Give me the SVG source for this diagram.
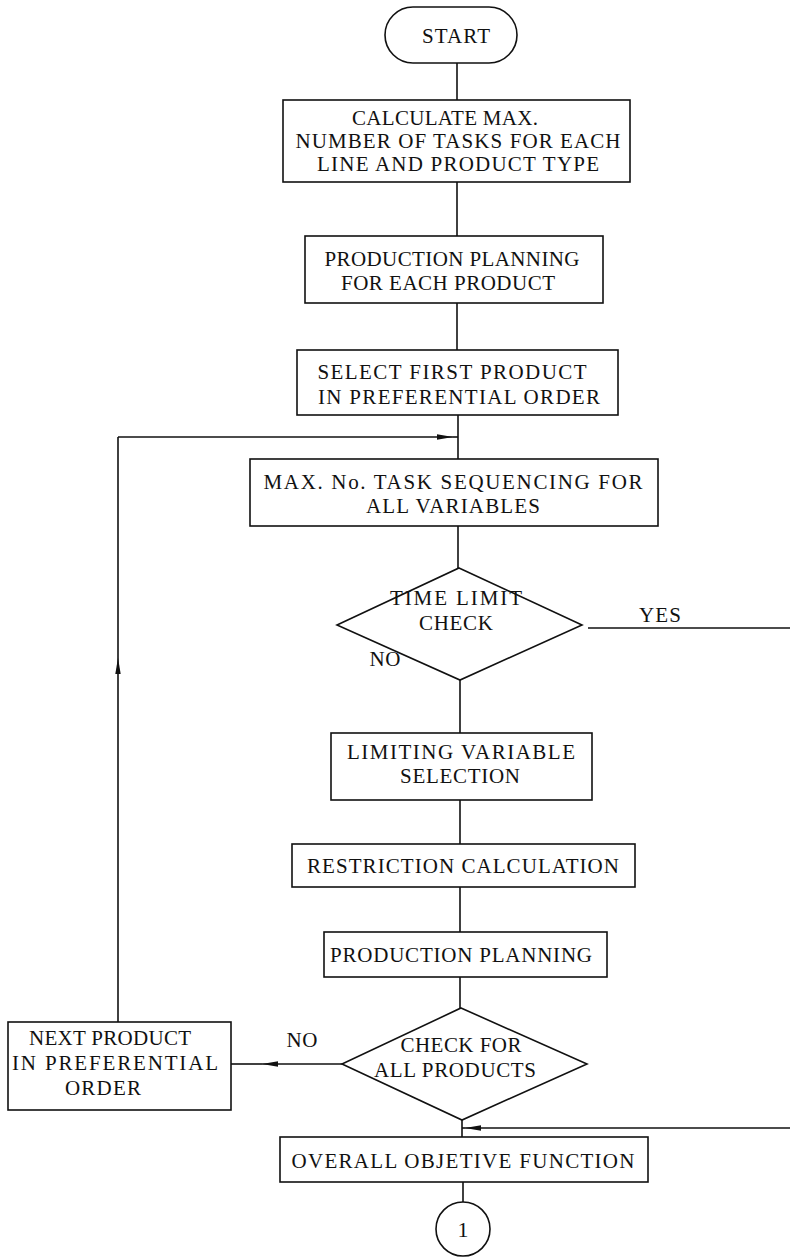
<svg xmlns="http://www.w3.org/2000/svg" width="790" height="1257" viewBox="0 0 790 1257">
<style>
.s{fill:none;stroke:#111;stroke-width:1.6}
.b{fill:#fff;stroke:#111;stroke-width:1.6}
text{font-family:"Liberation Serif","Times New Roman",serif;font-size:21px;fill:#111;text-anchor:middle}
</style>
<defs>
<marker id="ah" viewBox="0 0 16 6" refX="16" refY="3" markerWidth="16" markerHeight="6" markerUnits="userSpaceOnUse" orient="auto">
<path d="M0,0.3 L16,3 L0,5.7 Z" fill="#111"/>
</marker>
</defs>
<rect width="790" height="1257" fill="#fff"/>
<g id="connectors">
<line class="s" x1="457" y1="63" x2="457" y2="100"/>
<line class="s" x1="457" y1="182" x2="457" y2="236"/>
<line class="s" x1="457" y1="303" x2="457" y2="350"/>
<line class="s" x1="458" y1="415" x2="458" y2="459"/>
<line class="s" x1="458" y1="526" x2="458" y2="568"/>
<line class="s" x1="460" y1="680" x2="460" y2="734"/>
<line class="s" x1="460" y1="800" x2="460" y2="844"/>
<line class="s" x1="460" y1="887" x2="460" y2="932"/>
<line class="s" x1="460" y1="977" x2="460" y2="1008"/>
<line class="s" x1="462" y1="1120" x2="462" y2="1137"/>
<line class="s" x1="463" y1="1182" x2="463" y2="1202"/>
<line class="s" x1="588" y1="628" x2="790" y2="628"/>
<line class="s" x1="342" y1="1064" x2="262" y2="1064" marker-end="url(#ah)"/>
<line class="s" x1="262" y1="1064" x2="231" y2="1064"/>
<line class="s" x1="118" y1="1022" x2="118" y2="658" marker-end="url(#ah)"/>
<line class="s" x1="118" y1="658" x2="118" y2="437"/>
<line class="s" x1="118" y1="437" x2="453" y2="437" marker-end="url(#ah)"/>
<line class="s" x1="453" y1="437" x2="458" y2="437"/>
<line class="s" x1="790" y1="1128" x2="465" y2="1128" marker-end="url(#ah)"/>
<line class="s" x1="465" y1="1128" x2="462" y2="1128"/>
</g>
<g id="start">
<rect class="b" x="385" y="7" width="132" height="56" rx="28"/>
<text x="456" y="43" textLength="68" lengthAdjust="spacing">START</text>
</g>
<g id="calc">
<rect class="b" x="283" y="100" width="347" height="82"/>
<text x="445" y="125" textLength="186" lengthAdjust="spacing">CALCULATE MAX.</text>
<text x="458" y="148" textLength="325" lengthAdjust="spacing">NUMBER OF TASKS FOR EACH</text>
<text x="458" y="171" textLength="282" lengthAdjust="spacing">LINE AND PRODUCT TYPE</text>
</g>
<g id="planning">
<rect class="b" x="305" y="236" width="298" height="67"/>
<text x="452" y="266" textLength="255" lengthAdjust="spacing">PRODUCTION PLANNING</text>
<text x="448" y="290" textLength="214" lengthAdjust="spacing">FOR EACH PRODUCT</text>
</g>
<g id="select">
<rect class="b" x="297" y="350" width="321" height="65"/>
<text x="452" y="379" textLength="269" lengthAdjust="spacing">SELECT FIRST PRODUCT</text>
<text x="459" y="404" textLength="282" lengthAdjust="spacing">IN PREFERENTIAL ORDER</text>
</g>
<g id="maxno">
<rect class="b" x="250" y="459" width="408" height="67"/>
<text x="453" y="489" textLength="379" lengthAdjust="spacing">MAX. No. TASK SEQUENCING FOR</text>
<text x="453" y="513" textLength="174" lengthAdjust="spacing">ALL VARIABLES</text>
</g>
<g id="timelimit">
<polygon class="b" points="459,568 582,625 460,680 337,625"/>
<text x="456" y="605" textLength="132" lengthAdjust="spacing">TIME LIMIT</text>
<text x="456" y="630" textLength="74" lengthAdjust="spacing">CHECK</text>
<text x="660" y="622" textLength="42" lengthAdjust="spacing">YES</text>
<text x="385" y="666" textLength="31" lengthAdjust="spacing">NO</text>
</g>
<g id="limiting">
<rect class="b" x="331" y="733" width="261" height="67"/>
<text x="461" y="759" textLength="228" lengthAdjust="spacing">LIMITING VARIABLE</text>
<text x="460" y="783" textLength="120" lengthAdjust="spacing">SELECTION</text>
</g>
<g id="restriction">
<rect class="b" x="292" y="844" width="343" height="43"/>
<text x="463" y="873" textLength="312" lengthAdjust="spacing">RESTRICTION CALCULATION</text>
</g>
<g id="prodplan">
<rect class="b" x="324" y="932" width="283" height="45"/>
<text x="461" y="962" textLength="262" lengthAdjust="spacing">PRODUCTION PLANNING</text>
</g>
<g id="checkall">
<polygon class="b" points="461,1008 587,1064 462,1120 342,1064"/>
<text x="461" y="1052" textLength="121" lengthAdjust="spacing">CHECK FOR</text>
<text x="455" y="1077" textLength="162" lengthAdjust="spacing">ALL PRODUCTS</text>
<text x="302" y="1047" textLength="31" lengthAdjust="spacing">NO</text>
</g>
<g id="nextproduct">
<rect class="b" x="8" y="1022" width="223" height="88"/>
<text x="110" y="1045" textLength="162" lengthAdjust="spacing">NEXT PRODUCT</text>
<text x="115" y="1070" textLength="206" lengthAdjust="spacing">IN PREFERENTIAL</text>
<text x="103" y="1095" textLength="76" lengthAdjust="spacing">ORDER</text>
</g>
<g id="objective">
<rect class="b" x="280" y="1137" width="368" height="45"/>
<text x="463" y="1168" textLength="343" lengthAdjust="spacing">OVERALL OBJETIVE FUNCTION</text>
</g>
<g id="connector1">
<circle class="b" cx="463" cy="1229" r="27"/>
<text x="463" y="1237" style="font-size:22px">1</text>
</g>
</svg>
